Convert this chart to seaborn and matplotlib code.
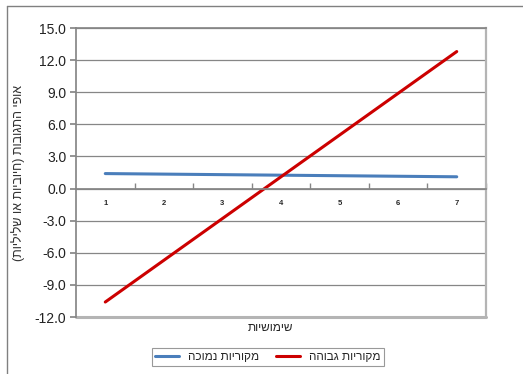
import numpy as np
import pandas as pd
import seaborn as sns
from matplotlib import pyplot as plt
from matplotlib.lines import Line2D

# נתונים
usefulness = [1, 2, 3, 4, 5, 6, 7]
low_orig = [1.4, 1.35, 1.3, 1.25, 1.2, 1.15, 1.1]
high_orig = [-10.6, -6.7, -2.8, 1.1, 5.0, 8.9, 12.8]
series_names = ['מקוריות נמוכה', 'מקוריות גבוהה']
y_ticks = [-12, -9, -6, -3, 0, 3, 6, 9, 12, 15]
x_title = 'שימושיות'
y_title = 'אופי התגובות (חיוביות או שליליות)'


def rtl(s):
    # matplotlib has no bidi support: reverse for display and mirror brackets
    return s[::-1].translate(str.maketrans('()', ')('))


sns.set_theme(style='white')
plt.rcParams['font.family'] = ['Liberation Sans', 'DejaVu Sans']

df = pd.DataFrame({
    'x': usefulness * 2,
    'y': low_orig + high_orig,
    'series': [series_names[0]] * 7 + [series_names[1]] * 7,
})
pal = {series_names[0]: '#4a7ebb', series_names[1]: '#cc0000'}

fig = plt.figure(figsize=(5.23, 3.74), dpi=100)
ax = fig.add_axes([0.1453, 0.1524, 0.784, 0.7727])
sns.lineplot(data=df, x='x', y='y', hue='series', palette=pal, linewidth=2.2,
             legend=False, ax=ax)

ax.set_xlim(0.5, 7.5)
ax.set_ylim(-12, 15)
ax.set_yticks(y_ticks)
ax.set_yticklabels([f'{v:.1f}' for v in y_ticks], fontsize=10, color='#222222')
for v in y_ticks:
    ax.axhline(v, color='#868686', lw=0.9, zorder=0)

# category axis crosses at zero
ax.spines['bottom'].set_position(('data', 0))
ax.spines['bottom'].set_color('#868686')
ax.spines['left'].set_color('#868686')
ax.spines['right'].set_color('#b4b4b4')
ax.spines['right'].set_linewidth(1.6)
ax.spines['top'].set_color('#868686')
ax.axhline(-12, color='#b4b4b4', lw=2.2, zorder=0, clip_on=False)

ax.set_xticks(usefulness)
ax.set_xticklabels([str(v) for v in usefulness], fontsize=5.5, fontweight='bold')
ax.set_xticks(np.arange(1.5, 7.6, 1), minor=True)
ax.tick_params(axis='x', which='major', length=0, pad=8)
ax.tick_params(axis='x', which='minor', length=4, direction='in',
               color='#868686', bottom=True)
ax.tick_params(axis='y', length=4, direction='out', color='#868686',
               left=True, pad=3)
ax.set_xlabel('')
ax.set_ylabel(rtl(y_title), fontsize=9, labelpad=7, color='#333333')

fig.text(0.517, 0.124, rtl(x_title), ha='center', va='center', fontsize=8.5,
         color='#222222')

handles = [Line2D([], [], color=pal[n], lw=2.2) for n in series_names]
leg = fig.legend(handles, [rtl(n) for n in series_names], ncol=2,
                 loc='center', bbox_to_anchor=(0.5125, 0.0455), fontsize=8.5,
                 frameon=True, fancybox=False, edgecolor='#808080',
                 handlelength=2.0, columnspacing=1.4, borderpad=0.25)
leg.get_frame().set_linewidth(0.8)

# outer chart frame (left and top edges visible)
fig.add_artist(Line2D([7 / 523, 7 / 523], [0, 1 - 6 / 374], color='#808080', lw=1))
fig.add_artist(Line2D([7 / 523, 1], [1 - 6 / 374, 1 - 6 / 374], color='#808080', lw=1))

fig.savefig('out.png', dpi=100)
